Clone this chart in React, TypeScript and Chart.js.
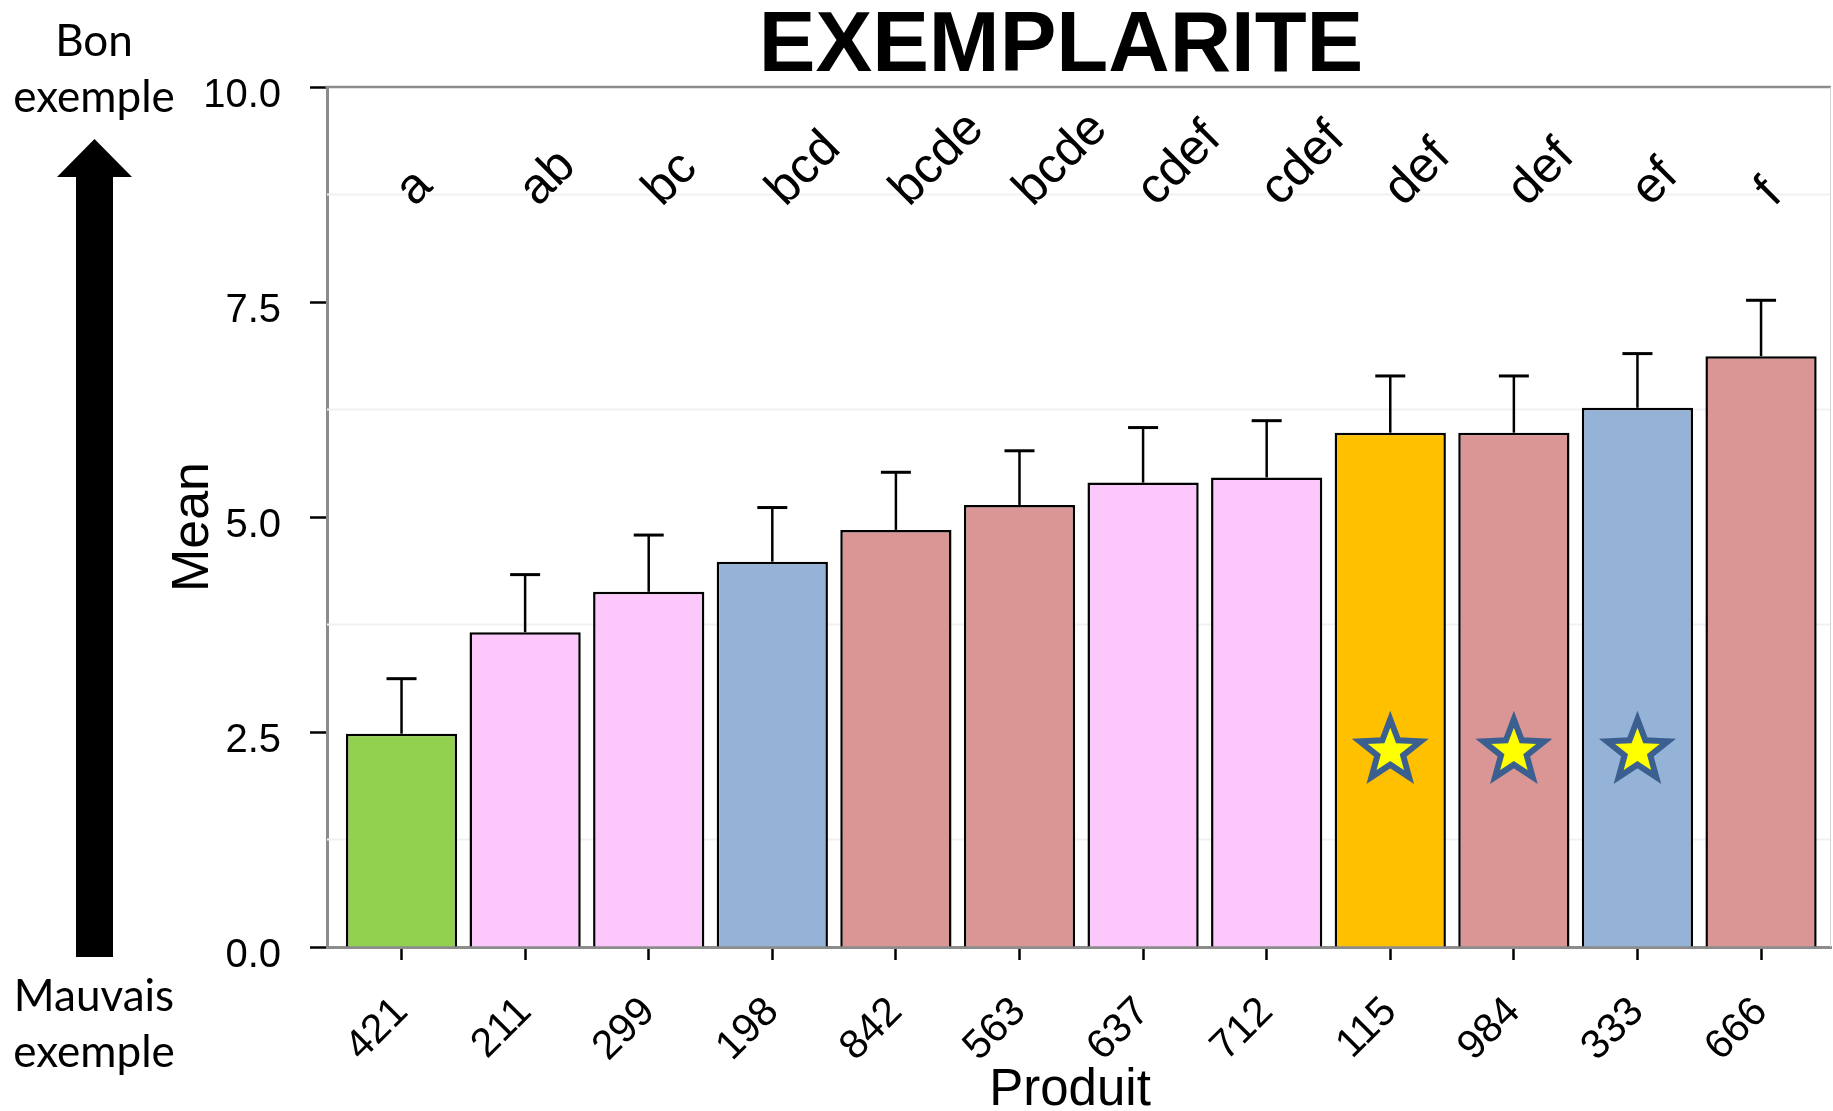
import { useEffect, useRef } from 'react';
import { Chart, registerables } from 'chart.js';

Chart.register(...registerables);

// Products, sorted by mean score
const products = ['421', '211', '299', '198', '842', '563', '637', '712', '115', '984', '333', '666'];
const means = [2.48, 3.66, 4.13, 4.48, 4.85, 5.14, 5.40, 5.46, 5.98, 5.98, 6.27, 6.87];
const errors = [0.64, 0.67, 0.66, 0.63, 0.67, 0.63, 0.64, 0.66, 0.66, 0.66, 0.63, 0.65];
// Letters of the homogeneous groups (multiple comparison test)
const groups = ['a', 'ab', 'bc', 'bcd', 'bcde', 'bcde', 'cdef', 'cdef', 'def', 'def', 'ef', 'f'];
const barColors = [
  '#92D050', '#FCC8FC', '#FCC8FC', '#95B3D7', '#D99694', '#D99694',
  '#FCC8FC', '#FCC8FC', '#FFC000', '#D99694', '#95B3D7', '#D99694',
];
// Products marked with a star
const starredProducts = ['115', '984', '333'];
const yTickValues = [0, 2.5, 5, 7.5, 10];
const minorGridValues = [1.25, 3.75, 6.25, 8.75];
const groupLetterLevel = 8.6;
const starLevel = 2.3;

const SANS = '"Liberation Sans", Arial, Helvetica, sans-serif';

function drawStar(ctx: CanvasRenderingContext2D, cx: number, cy: number, outer: number, inner: number) {
  ctx.beginPath();
  for (let k = 0; k < 10; k++) {
    const r = k % 2 === 0 ? outer : inner;
    const a = -Math.PI / 2 + (k * Math.PI) / 5;
    const px = cx + r * Math.cos(a);
    const py = cy + r * Math.sin(a);
    if (k === 0) ctx.moveTo(px, py);
    else ctx.lineTo(px, py);
  }
  ctx.closePath();
}

const decorations = {
  id: 'decorations',
  beforeDatasetsDraw(chart: any) {
    const { ctx, chartArea, scales } = chart;
    const y = scales.y;
    ctx.save();
    ctx.strokeStyle = '#f1f1f1';
    ctx.lineWidth = 2;
    minorGridValues.forEach((v) => {
      const py = y.getPixelForValue(v);
      ctx.beginPath();
      ctx.moveTo(chartArea.left, py);
      ctx.lineTo(chartArea.right, py);
      ctx.stroke();
    });
    ctx.restore();
  },
  afterDatasetsDraw(chart: any) {
    const { ctx, scales } = chart;
    const x = scales.x;
    const y = scales.y;
    ctx.save();

    // error bars (upper half only)
    ctx.strokeStyle = '#000';
    ctx.lineCap = 'butt';
    products.forEach((_, i) => {
      const px = x.getPixelForValue(i);
      const top = y.getPixelForValue(means[i]);
      const end = y.getPixelForValue(means[i] + errors[i]);
      ctx.lineWidth = 2.5;
      ctx.beginPath();
      ctx.moveTo(px, top);
      ctx.lineTo(px, end);
      ctx.stroke();
      ctx.lineWidth = 3;
      ctx.beginPath();
      ctx.moveTo(px - 15, end);
      ctx.lineTo(px + 15, end);
      ctx.stroke();
    });

    // stars
    products.forEach((p, i) => {
      if (!starredProducts.includes(p)) return;
      const px = x.getPixelForValue(i);
      const py = y.getPixelForValue(starLevel);
      drawStar(ctx, px, py + 2, 32, 13.5);
      ctx.fillStyle = '#FFFF00';
      ctx.fill();
      ctx.lineJoin = 'miter';
      ctx.lineWidth = 6;
      ctx.strokeStyle = '#3B5F8E';
      ctx.stroke();
    });

    // group letters
    ctx.fillStyle = '#000';
    ctx.font = `50px ${SANS}`;
    ctx.textAlign = 'left';
    ctx.textBaseline = 'alphabetic';
    groups.forEach((g, i) => {
      const px = x.getPixelForValue(i) + 13;
      const py = y.getPixelForValue(groupLetterLevel);
      ctx.save();
      ctx.translate(px, py);
      ctx.rotate(-Math.PI / 4);
      ctx.fillText(g, 0, 0);
      ctx.restore();
    });
    ctx.restore();
  },
  afterDraw(chart: any) {
    const { ctx, chartArea } = chart;
    ctx.save();

    // top and right frame
    ctx.strokeStyle = '#8c8c8c';
    ctx.lineWidth = 2.5;
    ctx.beginPath();
    ctx.moveTo(chartArea.left - 1.5, chartArea.top);
    ctx.lineTo(chartArea.right, chartArea.top);
    ctx.stroke();
    ctx.strokeStyle = '#d4d4d4';
    ctx.lineWidth = 1;
    ctx.beginPath();
    ctx.moveTo(chartArea.right - 0.5, chartArea.top);
    ctx.lineTo(chartArea.right - 0.5, chartArea.bottom);
    ctx.stroke();

    ctx.fillStyle = '#000';

    // title
    ctx.font = `bold 85px ${SANS}`;
    ctx.textAlign = 'center';
    ctx.textBaseline = 'alphabetic';
    ctx.fillText('EXEMPLARITE', 1061, 71);

    // axis titles
    ctx.font = `51px ${SANS}`;
    ctx.fillText('Produit', 1070, 1105);
    ctx.save();
    ctx.translate(208, 527);
    ctx.rotate(-Math.PI / 2);
    ctx.font = `52px ${SANS}`;
    ctx.fillText('Mean', 0, 0);
    ctx.restore();

    // side legend: good / bad example with arrow
    ctx.font = '44px Lato, "Open Sans", sans-serif';
    ctx.fillText('Bon', 94, 56);
    ctx.fillText('exemple', 94, 112);
    ctx.fillText('Mauvais', 94, 1011);
    ctx.fillText('exemple', 94, 1067);

    ctx.beginPath();
    ctx.moveTo(94.5, 139);
    ctx.lineTo(132, 177);
    ctx.lineTo(113, 177);
    ctx.lineTo(113, 957);
    ctx.lineTo(76, 957);
    ctx.lineTo(76, 177);
    ctx.lineTo(57, 177);
    ctx.closePath();
    ctx.fill();

    ctx.restore();
  },
};

export default function App() {
  const canvasRef = useRef<HTMLCanvasElement | null>(null);

  useEffect(() => {
    document.body.style.margin = '0';
    const canvas = canvasRef.current;
    if (!canvas) return;

    const chart = new Chart(canvas, {
      type: 'bar',
      data: {
        datasets: [
          {
            data: products.map((_, i) => ({ x: i, y: means[i] })),
            backgroundColor: barColors,
            borderColor: '#000',
            borderWidth: 2.5,
            borderSkipped: 'start',
            barPercentage: 0.9,
            categoryPercentage: 1,
          },
        ],
      },
      options: {
        responsive: false,
        animation: false,
        events: [],
        layout: { padding: { top: 87, right: 2, left: 0, bottom: 0 } },
        plugins: {
          legend: { display: false },
          title: { display: false },
          tooltip: { enabled: false },
        },
        scales: {
          x: {
            type: 'linear',
            min: -0.603,
            max: 11.566,
            offset: false,
            z: 1,
            afterFit: (scale: any) => {
              scale.height = 164;
            },
            afterBuildTicks: (scale: any) => {
              scale.ticks = products.map((_, i) => ({ value: i }));
            },
            border: { display: true, color: '#8c8c8c', width: 3 },
            grid: {
              offset: false,
              drawOnChartArea: false,
              drawTicks: true,
              tickLength: 13,
              tickColor: '#000',
              tickWidth: 2.5,
            },
            ticks: {
              autoSkip: false,
              minRotation: 45,
              maxRotation: 45,
              padding: 28,
              color: '#000',
              font: { family: SANS, size: 41 },
              callback: (value: any) => products[value as number] ?? '',
            },
          },
          y: {
            min: 0,
            max: 10,
            afterFit: (scale: any) => {
              scale.width = 327;
            },
            afterBuildTicks: (scale: any) => {
              scale.ticks = yTickValues.map((v) => ({ value: v }));
            },
            border: { display: true, color: '#8c8c8c', width: 3 },
            grid: {
              drawOnChartArea: false,
              drawTicks: true,
              tickLength: 17,
              tickColor: '#000',
              tickWidth: 2.5,
            },
            ticks: {
              padding: 29,
              labelOffset: 9,
              color: '#000',
              font: { family: SANS, size: 40 },
              callback: (value: any) => Number(value).toFixed(1),
            },
          },
        },
      },
      plugins: [decorations],
    } as any);

    return () => {
      chart.destroy();
    };
  }, []);

  return <canvas ref={canvasRef} width={1833} height={1111} style={{ display: 'block' }} />;
}
